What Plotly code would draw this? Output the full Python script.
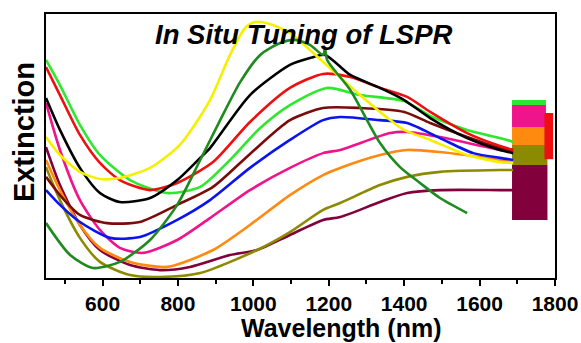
import plotly.graph_objects as go

# ---- data (wavelength in nm, extinction in arbitrary units) ----
yellow_x = [450, 487, 540, 593, 646, 726, 805, 885, 938, 978, 1004, 1044, 1097, 1150, 1203, 1283, 1336, 1400, 1469, 1567, 1654, 1689]
yellow_y = [53.4, 46.6, 40.2, 37.5, 37.9, 41.7, 50.4, 67.4, 84.5, 94.7, 97.0, 96.2, 92.8, 86.4, 79.5, 69.3, 62.9, 56.1, 52.3, 46.6, 43.9, 43.6]

dkgreen_x = [450, 514, 575, 646, 726, 798, 859, 912, 965, 1018, 1071, 1110, 1150, 1185, 1190, 1196, 1257, 1336, 1389, 1442, 1495, 1567]
dkgreen_y = [20.8, 8.7, 3.8, 6.1, 14.4, 27.7, 44.7, 59.8, 74.2, 84.5, 89.0, 90.2, 88.3, 84.5, 87.0, 82.5, 71.2, 51.1, 42.0, 36.0, 30.3, 24.6]

black_x = [450, 487, 540, 593, 646, 726, 798, 859, 885, 991, 1097, 1150, 1190, 1257, 1336, 1400, 1469, 1567, 1654, 1689]
black_y = [68.2, 56.1, 41.7, 32.2, 28.8, 30.3, 37.1, 45.5, 49.2, 69.3, 80.7, 83.3, 84.5, 76.9, 72.0, 67.4, 60.6, 53.0, 48.5, 47.3]

red_x = [450, 487, 540, 593, 646, 726, 798, 893, 991, 1097, 1185, 1257, 1336, 1408, 1469, 1567, 1654, 1689]
red_y = [79.9, 69.3, 54.2, 43.6, 37.1, 33.3, 36.0, 43.9, 59.1, 72.0, 77.3, 76.1, 72.0, 68.6, 62.9, 54.9, 50.0, 48.5]

lime_x = [450, 487, 540, 593, 673, 771, 859, 938, 1018, 1097, 1195, 1283, 1400, 1469, 1567, 1673, 1689]
lime_y = [82.6, 73.1, 58.0, 46.6, 37.1, 32.2, 34.5, 44.7, 56.8, 65.5, 72.0, 69.3, 67.0, 61.4, 56.1, 52.3, 51.5]

brown_x = [450, 487, 540, 612, 699, 798, 893, 991, 1097, 1185, 1283, 1400, 1469, 1567, 1654, 1689]
brown_y = [38.3, 31.4, 23.9, 20.8, 21.2, 27.7, 34.5, 47.0, 59.8, 64.4, 64.4, 62.9, 58.7, 53.4, 49.2, 48.5]

blue_x = [450, 487, 540, 620, 699, 798, 885, 991, 1097, 1185, 1230, 1336, 1408, 1495, 1583, 1654, 1689]
blue_y = [33.3, 27.7, 21.2, 15.2, 15.5, 22.0, 29.5, 41.7, 52.3, 59.8, 61.0, 59.8, 58.7, 53.0, 47.3, 45.5, 44.7]

magenta_x = [450, 487, 540, 593, 646, 707, 798, 885, 991, 1097, 1185, 1230, 1363, 1408, 1495, 1654, 1689]
magenta_y = [66.3, 48.5, 29.5, 18.2, 11.4, 9.5, 14.4, 22.7, 33.3, 41.7, 47.3, 48.5, 54.9, 55.3, 53.4, 48.5, 48.1]

orange_x = [450, 487, 540, 593, 673, 771, 893, 991, 1097, 1185, 1230, 1336, 1408, 1495, 1654, 1689]
orange_y = [44.7, 33.3, 20.1, 11.4, 6.1, 4.2, 10.6, 20.1, 31.4, 39.0, 41.7, 46.6, 48.5, 47.7, 44.7, 43.9]

olive_x = [450, 487, 540, 593, 673, 752, 859, 1010, 1097, 1185, 1230, 1336, 1408, 1495, 1654, 1689]
olive_y = [42.0, 29.5, 15.2, 6.1, 1.1, 0.4, 1.9, 10.6, 17.4, 25.8, 28.4, 35.2, 38.3, 40.2, 40.9, 40.9]

maroon_x = [450, 487, 540, 593, 673, 752, 832, 938, 1010, 1097, 1185, 1230, 1336, 1408, 1495, 1654, 1689]
maroon_y = [49.6, 35.2, 20.1, 10.6, 4.9, 3.0, 4.2, 8.7, 10.6, 16.3, 22.0, 23.1, 28.8, 32.2, 33.3, 33.3, 33.3]

# noisy detector-switch region (1686-1795 nm): vertical spans per colour
block_names = ["maroon", "olive", "orange", "magenta", "lime", "red"]
block_x0 = [1686, 1686, 1686, 1686, 1686, 1772]
block_x1 = [1780, 1780, 1778, 1776, 1776, 1795]
block_lo = [22.0, 42.8, 50.4, 57.2, 65.5, 45.0]
block_hi = [42.8, 50.4, 57.2, 65.5, 67.4, 62.5]

tick_vals = [600, 800, 1000, 1200, 1400, 1600, 1800]
tick_text = ["600", "800", "1000", "1200", "1400", "1600", "1800"]
minor_vals = [500, 700, 900, 1100, 1300, 1500, 1700]

colors = {
    "yellow": "#f4f000", "dkgreen": "#1f8a1f", "black": "#000000", "red": "#ee1010",
    "lime": "#2ee82e", "brown": "#7a0c0c", "blue": "#0a14ee", "magenta": "#f0148c",
    "orange": "#ff8a10", "olive": "#8c8a00", "maroon": "#82003c",
}

series = [
    ("maroon", maroon_x, maroon_y), ("olive", olive_x, olive_y), ("orange", orange_x, orange_y),
    ("magenta", magenta_x, magenta_y), ("blue", blue_x, blue_y), ("brown", brown_x, brown_y),
    ("lime", lime_x, lime_y), ("red", red_x, red_y), ("black", black_x, black_y),
    ("yellow", yellow_x, yellow_y), ("dkgreen", dkgreen_x, dkgreen_y),
]

fig = go.Figure()

for name, x0, x1, lo, hi in zip(block_names, block_x0, block_x1, block_lo, block_hi):
    fig.add_trace(go.Scatter(
        x=[x0, x1, x1, x0, x0], y=[lo, lo, hi, hi, lo], mode="lines",
        fill="toself", fillcolor=colors[name], line=dict(width=0, color=colors[name]),
        hoverinfo="skip", showlegend=False))

for name, xs, ys in series:
    fig.add_trace(go.Scatter(
        x=xs, y=ys, mode="lines", line=dict(color=colors[name], width=2.6, shape="spline", smoothing=0.7),
        showlegend=False, name=name))

font_family = "Arial, Liberation Sans, sans-serif"

fig.update_layout(
    width=581, height=343,
    margin=dict(l=46, r=26, t=14, b=65, autoexpand=False),
    plot_bgcolor="white", paper_bgcolor="white",
    font=dict(family=font_family, color="black"),
    xaxis=dict(
        range=[450, 1800], tickmode="array", tickvals=tick_vals,
        ticktext=["<b>" + t + "</b>" for t in tick_text],
        ticks="outside", ticklen=6, tickwidth=2, tickcolor="black", automargin=False,
        minor=dict(tickvals=minor_vals, ticks="outside", ticklen=4, tickwidth=1.5, tickcolor="black"),
        showline=True, linecolor="black", linewidth=2, mirror=True, showgrid=False, zeroline=False,
        tickfont=dict(size=21, family=font_family),
    ),
    yaxis=dict(
        range=[0, 100], showticklabels=False, ticks="", automargin=False,
        showline=True, linecolor="black", linewidth=2, mirror=True, showgrid=False, zeroline=False,
    ),
    annotations=[
        dict(text="<b><i>In Situ Tuning of LSPR</i></b>", x=0.507, y=0.923, xref="paper", yref="paper",
             xanchor="center", yanchor="middle", showarrow=False,
             font=dict(size=27.5, family=font_family, color="black")),
        dict(text="<b>Wavelength (nm)</b>", x=0.58, y=-0.19, xref="paper", yref="paper",
             xanchor="center", yanchor="middle", showarrow=False,
             font=dict(size=25, family=font_family, color="black")),
        dict(text="<b>Extinction</b>", x=-0.043, y=0.553, xref="paper", yref="paper", textangle=-90,
             xanchor="center", yanchor="middle", showarrow=False,
             font=dict(size=29, family=font_family, color="black")),
    ],
)

fig.write_html("out.html")
